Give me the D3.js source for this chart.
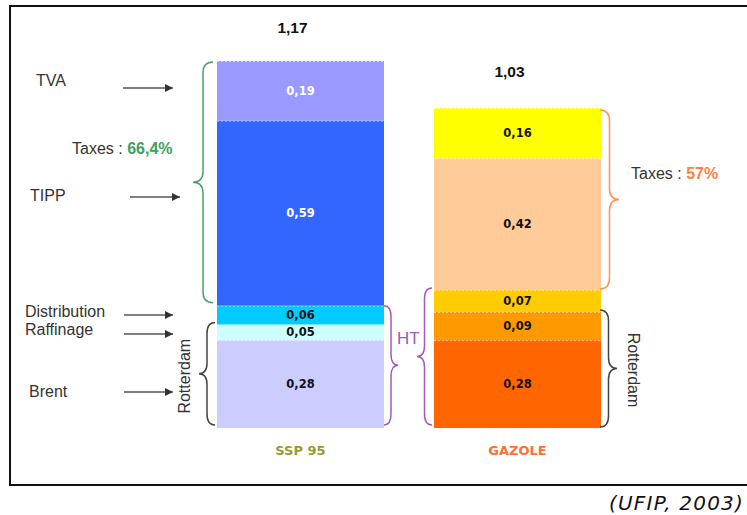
<!DOCTYPE html>
<html><head><meta charset="utf-8">
<script src="https://cdn.jsdelivr.net/npm/d3@7"></script>
<style>body{margin:0;background:#fff;} svg{display:block;}</style>
</head><body>
<script>
// ---- data ----
const categories = ["SSP 95", "GAZOLE"];
const components = ["Brent", "Raffinage", "Distribution", "TIPP", "TVA"];
const sspValues = [0.28, 0.05, 0.06, 0.59, 0.19];
const gazoleValues = [0.28, 0.09, 0.07, 0.42, 0.16];
const totals = [1.17, 1.03];
const taxShares = [66.4, 57];
const sourceText = "(UFIP, 2003)";

// ---- styles ----
const segColors = [
  ["#ccccff", "#ccffff", "#00ccff", "#3366ff", "#9999ff"],
  ["#ff6600", "#ff9900", "#ffcc00", "#ffcc99", "#ffff00"]
];
const valueColors = [
  ["#111", "#111", "#111", "#fff", "#fff"],
  ["#111", "#111", "#111", "#111", "#111"]
];
const catColors = ["#9a9a2e", "#ff7033"];

const fr = d3.formatLocale({decimal: ",", thousands: " ", grouping: [3], currency: ["", "€"]});
const f2 = fr.format(".2f");
const fp = fr.format("~f");

const W = 747, H = 515;
const svg = d3.select("body").append("svg").attr("width", W).attr("height", H)
  .style("font-family", "'Liberation Sans', Arial, sans-serif");
svg.append("rect").attr("width", W).attr("height", H).attr("fill", "#fff");
svg.append("rect").attr("x", 10).attr("y", 6).attr("width", 770).attr("height", 479)
  .attr("fill", "none").attr("stroke", "#111").attr("stroke-width", 2);

const defs = svg.append("defs");
defs.append("marker").attr("id", "arr").attr("viewBox", "0 0 10 10")
  .attr("refX", 10).attr("refY", 5).attr("markerWidth", 9).attr("markerHeight", 8)
  .attr("markerUnits", "userSpaceOnUse").attr("orient", "auto")
  .append("path").attr("d", "M0,0 L10,5 L0,10 z").attr("fill", "#333");

// ---- scales ----
const x = d3.scaleBand().domain(categories).range([217, 601]).paddingInner(50 / 217).paddingOuter(0);
const y = d3.scaleLinear().domain([0, d3.max(totals)]).range([428, 61]);
const bw = x.bandwidth();

const rows = categories.map((c, i) => {
  const vals = i === 0 ? sspValues : gazoleValues;
  const r = {category: c};
  components.forEach((k, j) => r[k] = vals[j]);
  return r;
});
const series = d3.stack().keys(components)(rows);

// ---- bars ----
const g = svg.append("g");
series.forEach((s, j) => {
  s.forEach((d, i) => {
    const cat = categories[i];
    const y0 = y(d[0]), y1 = y(d[1]);
    g.append("rect").attr("x", x(cat)).attr("y", y1).attr("width", bw).attr("height", y0 - y1)
      .attr("fill", segColors[i][j]);
    g.append("line").attr("x1", x(cat)).attr("x2", x(cat) + bw).attr("y1", y1 + 0.5).attr("y2", y1 + 0.5)
      .attr("stroke", "#fff").attr("stroke-opacity", 0.55).attr("stroke-dasharray", "2,2");
    g.append("text").attr("x", x(cat) + bw / 2).attr("y", (y0 + y1) / 2 + 4)
      .attr("text-anchor", "middle").attr("font-family", "'DejaVu Sans', Verdana, sans-serif")
      .attr("font-weight", "bold").attr("font-size", 11.5).attr("fill", valueColors[i][j])
      .text(f2(d.data[s.key]));
  });
});

// totals and category labels
categories.forEach((c, i) => {
  svg.append("text").attr("x", x(c) + bw / 2 - 8).attr("y", y(totals[i]) - 28)
    .attr("text-anchor", "middle").attr("font-weight", "bold").attr("font-size", 15.5).attr("fill", "#111")
    .text(f2(totals[i]));
  svg.append("text").attr("x", x(c) + bw / 2).attr("y", y(0) + 27)
    .attr("text-anchor", "middle").attr("font-family", "'DejaVu Sans', Verdana, sans-serif")
    .attr("font-weight", "bold").attr("font-size", 13).attr("fill", catColors[i])
    .text(c);
});

// ---- left labels and arrows ----
const arrowLayout = {
  "TVA":          {tx: 36, ty: 86,  x1: 123, x2: 173, ay: 88},
  "TIPP":         {tx: 30, ty: 201, x1: 130, x2: 180, ay: 197},
  "Distribution": {tx: 25, ty: 317, x1: 124, x2: 173, ay: 315},
  "Raffinage":    {tx: 25, ty: 335, x1: 124, x2: 173, ay: 334},
  "Brent":        {tx: 29, ty: 397, x1: 124, x2: 173, ay: 392}
};
components.forEach(k => {
  const a = arrowLayout[k];
  svg.append("text").attr("x", a.tx).attr("y", a.ty).attr("font-size", 16).attr("fill", "#333").text(k);
  svg.append("line").attr("x1", a.x1).attr("x2", a.x2).attr("y1", a.ay).attr("y2", a.ay)
    .attr("stroke", "#555").attr("stroke-width", 1.5).attr("marker-end", "url(#arr)");
});

// ---- braces ----
function brace(xEnd, xTip, y1, y2) {
  const ym = (y1 + y2) / 2, xm = (xEnd + xTip) / 2, r = Math.min(11, (y2 - y1) / 4);
  return `M${xEnd},${y1} Q${xm},${y1} ${xm},${y1 + r} L${xm},${ym - r} Q${xm},${ym} ${xTip},${ym} ` +
         `Q${xm},${ym} ${xm},${ym + r} L${xm},${y2 - r} Q${xm},${y2} ${xEnd},${y2}`;
}
const bx0 = x(categories[0]), bx1 = x(categories[1]);
const s0 = sspValues, s1 = gazoleValues;
const ht0 = s0[0] + s0[1] + s0[2], ht1 = s1[0] + s1[1] + s1[2];
const rot0 = s0[0] + s0[1], rot1 = s1[0] + s1[1];
const braces = [
  {d: brace(bx0 - 4, bx0 - 24, y(totals[0]) + 1, y(ht0) - 3), c: "#4aa26a"},
  {d: brace(bx0 - 2, bx0 - 18, y(rot0) - 2, y(0) - 3), c: "#444"},
  {d: brace(bx0 + bw, bx0 + bw + 14, y(ht0), y(0) - 3), c: "#a259b8"},
  {d: brace(bx1 - 2, bx1 - 17, y(ht1) - 2, y(0) - 3), c: "#a259b8"},
  {d: brace(bx1 + bw - 1, bx1 + bw + 18, y(d3.sum(s1)) + 2, y(ht1) - 1), c: "#ff9150"},
  {d: brace(bx1 + bw - 1, bx1 + bw + 16, y(rot1) - 2, y(0) - 1), c: "#444"}
];
braces.forEach(b => svg.append("path").attr("d", b.d).attr("fill", "none")
  .attr("stroke", b.c).attr("stroke-width", 1.5));

// ---- annotations ----
const t1 = svg.append("text").attr("x", 72).attr("y", 154).attr("font-size", 16).attr("fill", "#333");
t1.append("tspan").text("Taxes : ");
t1.append("tspan").attr("fill", "#3d9e5f").attr("font-weight", "bold").text(fp(taxShares[0]) + "%");
const t2 = svg.append("text").attr("x", 631).attr("y", 179).attr("font-size", 16).attr("fill", "#333");
t2.append("tspan").text("Taxes : ");
t2.append("tspan").attr("fill", "#ff7f3f").attr("font-weight", "bold").text(fp(taxShares[1]) + "%");

svg.append("text").attr("x", 397).attr("y", 344).attr("font-size", 17).attr("fill", "#a259b8").text("HT");
svg.append("text").attr("transform", `translate(190,${(y(rot0) + y(0)) / 2}) rotate(-90)`)
  .attr("text-anchor", "middle").attr("font-size", 16).attr("fill", "#333").text("Rotterdam");
svg.append("text").attr("transform", `translate(628,${(y(rot1) + y(0)) / 2}) rotate(90)`)
  .attr("text-anchor", "middle").attr("font-size", 16).attr("fill", "#333").text("Rotterdam");

svg.append("text").attr("x", 744).attr("y", 510).attr("text-anchor", "end")
  .attr("font-family", "'DejaVu Sans', Verdana, sans-serif")
  .attr("font-style", "italic").attr("font-size", 20).attr("letter-spacing", 1.2).attr("fill", "#111")
  .text(sourceText);
</script>
</body></html>
